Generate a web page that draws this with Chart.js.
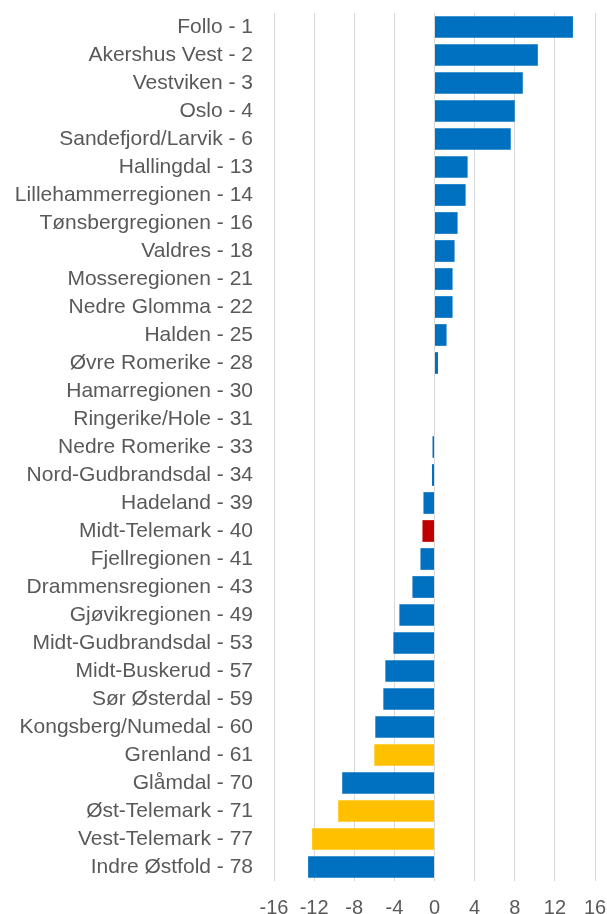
<!DOCTYPE html>
<html>
<head>
<meta charset="utf-8">
<script src="https://cdn.jsdelivr.net/npm/chart.js@4.4.1/dist/chart.umd.min.js"></script>
<style>
  html, body { margin: 0; padding: 0; background: #fff; }
  #wrap { width: 607px; height: 914px; }
</style>
</head>
<body>
<div id="wrap"><canvas id="chart" width="607" height="914"></canvas></div>
<script>
  // regions, ordered by rank
  const regions = [
    "Follo - 1", "Akershus Vest - 2", "Vestviken - 3", "Oslo - 4",
    "Sandefjord/Larvik - 6", "Hallingdal - 13", "Lillehammerregionen - 14",
    "Tønsbergregionen - 16", "Valdres - 18", "Mosseregionen - 21",
    "Nedre Glomma - 22", "Halden - 25", "Øvre Romerike - 28",
    "Hamarregionen - 30", "Ringerike/Hole - 31", "Nedre Romerike - 33",
    "Nord-Gudbrandsdal - 34", "Hadeland - 39", "Midt-Telemark - 40",
    "Fjellregionen - 41", "Drammensregionen - 43", "Gjøvikregionen - 49",
    "Midt-Gudbrandsdal - 53", "Midt-Buskerud - 57", "Sør Østerdal - 59",
    "Kongsberg/Numedal - 60", "Grenland - 61", "Glåmdal - 70",
    "Øst-Telemark - 71", "Vest-Telemark - 77", "Indre Østfold - 78"
  ];

  const values = [
    13.8, 10.3, 8.8, 8.0, 7.6, 3.3, 3.1, 2.3, 2.0, 1.8,
    1.8, 1.2, 0.35, 0, 0, -0.2, -0.25, -1.1, -1.2, -1.4,
    -2.2, -3.5, -4.1, -4.9, -5.1, -5.9, -6.0, -9.2, -9.6, -12.2,
    -12.6
  ];

  const xTicks = [-16, -12, -8, -4, 0, 4, 8, 12, 16];

  const redRegions = ["Midt-Telemark - 40"];
  const yellowRegions = ["Grenland - 61", "Øst-Telemark - 71", "Vest-Telemark - 77"];

  const barColors = regions.map(function (r) {
    if (redRegions.includes(r)) return "#C00000";
    if (yellowRegions.includes(r)) return "#FFC000";
    return "#0070C0";
  });

  const family = "'Liberation Sans', Arial, sans-serif";

  new Chart(document.getElementById("chart"), {
    type: "bar",
    data: {
      labels: regions,
      datasets: [{
        data: values,
        backgroundColor: barColors,
        borderWidth: 0,
        categoryPercentage: 1,
        barPercentage: 0.775
      }]
    },
    options: {
      indexAxis: "y",
      responsive: false,
      animation: false,
      layout: { padding: { top: 13, right: 12, left: 0, bottom: 0 } },
      plugins: {
        legend: { display: false },
        tooltip: { enabled: false }
      },
      scales: {
        x: {
          min: -16,
          max: 16,
          afterBuildTicks: function (scale) {
            scale.ticks = xTicks.map(v => ({ value: v }));
          },
          afterFit: function (scale) {
            scale.height = 33;
            scale.paddingLeft = 0;
            scale.paddingRight = 0;
          },
          grid: { color: "#d9d9d9", lineWidth: 1, drawTicks: false },
          border: { display: false },
          ticks: { color: "#595959", font: { family: family, size: 20 }, padding: 15, maxRotation: 0 }
        },
        y: {
          afterFit: function (scale) {
            scale.width = 274;
            scale.paddingTop = 0;
            scale.paddingBottom = 0;
          },
          grid: { display: false, drawTicks: false },
          border: { display: false },
          ticks: { color: "#595959", font: { family: family, size: 21 }, padding: 21, autoSkip: false }
        }
      }
    }
  });
</script>
</body>
</html>
